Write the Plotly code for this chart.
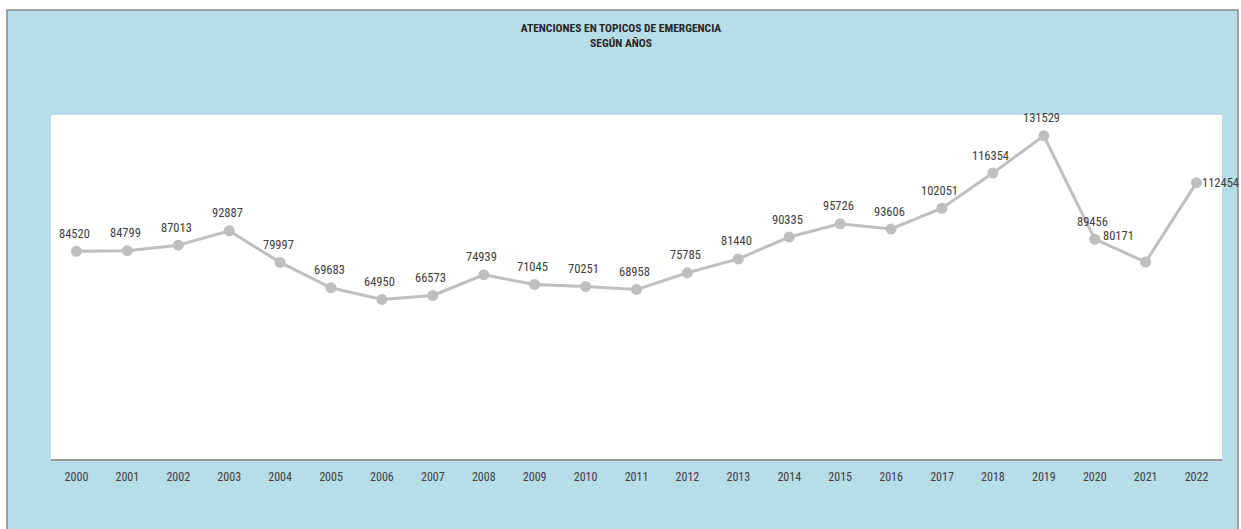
import plotly.graph_objects as go

years = [str(y) for y in range(2000, 2023)]
values = [84520, 84799, 87013, 92887, 79997, 69683, 64950, 66573, 74939, 71045,
          70251, 68958, 75785, 81440, 90335, 95726, 93606, 102051, 116354, 131529,
          89456, 80171, 112454]

W, H = 1241, 529
L, R, T, B = 51, 1222, 115, 459
pw, ph = R - L, B - T

def px(x):
    return (x - L) / pw

def py(y):
    return (B - y) / ph

FONT = "Liberation Sans Narrow, Arial Narrow, Roboto Condensed, sans-serif"

fig = go.Figure()
fig.add_trace(go.Scatter(
    x=years, y=values, mode="lines+markers",
    line=dict(color="#bfbfbf", width=3),
    marker=dict(color="#bfbfbf", size=11),
    cliponaxis=False, showlegend=False, hoverinfo="x+y",
))

# data labels (offsets mimic the reference placement); x is the category index
offsets = {"2021": dict(xanchor="center", xshift=-27, yshift=27),
           "2022": dict(xanchor="left", xshift=3, yshift=0)}
annotations = []
for i, (yr, v) in enumerate(zip(years, values)):
    o = offsets.get(yr, dict(xanchor="center", xshift=-2, yshift=18))
    annotations.append(dict(
        x=i, y=v, xref="x", yref="y", text=str(v), showarrow=False,
        xanchor=o["xanchor"], yanchor="middle", xshift=o["xshift"], yshift=o["yshift"],
        font=dict(family=FONT, size=12.5, color="#404040"),
    ))

shapes = [
    dict(type="rect", xref="paper", yref="paper", x0=px(7), x1=px(1238), y0=py(540), y1=py(10),
         fillcolor="#b7dde8", line=dict(color="#8a8a8a", width=1.5), layer="below"),
    dict(type="rect", xref="paper", yref="paper", x0=0, x1=1, y0=0, y1=1,
         fillcolor="white", line=dict(width=0), layer="below"),
]

fig.update_layout(
    width=W, height=H,
    margin=dict(l=L, r=W - R, t=T, b=H - B),
    paper_bgcolor="white", plot_bgcolor="white",
    shapes=shapes, annotations=annotations,
    title=dict(
        text="<b>ATENCIONES EN TOPICOS DE EMERGENCIA<br>SEGÚN AÑOS</b>",
        x=621 / W, xanchor="center", y=1 - 32 / H, yanchor="middle",
        font=dict(family=FONT, size=11.5, color="#262626"),
    ),
    xaxis=dict(type="category", range=[-0.5, len(years) - 0.5], showgrid=False, zeroline=False,
               showline=True, linecolor="#9a9a9a", linewidth=2, ticks="", ticklabelstandoff=6,
               tickfont=dict(family=FONT, size=12, color="#404040")),
    yaxis=dict(range=[0, 140000], visible=False, showgrid=False, zeroline=False),
)

fig.write_html("out.html", config={"displayModeBar": False},
               post_script="document.body.style.margin='0';document.body.style.overflow='hidden';")
